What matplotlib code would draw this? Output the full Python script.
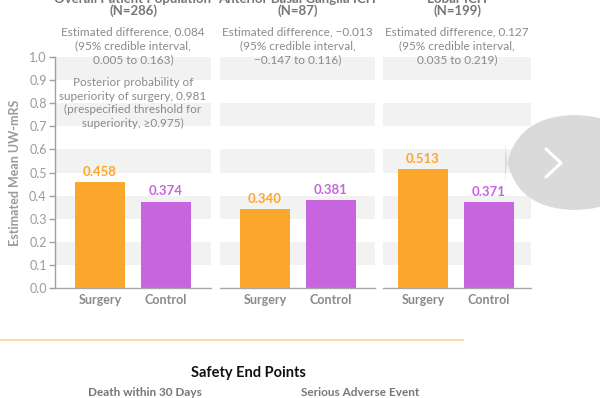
import matplotlib
matplotlib.use("Agg")
import matplotlib.pyplot as plt
from matplotlib.patches import FancyBboxPatch
from matplotlib.lines import Line2D

plt.rcParams['font.family'] = ['Lato', 'DejaVu Sans']

# ---- data ----
groups = ["Overall Patient Population", "Anterior Basal Ganglia ICH", "Lobar ICH"]
group_n = ["(N=286)", "(N=87)", "(N=199)"]
arms = ["Surgery", "Control"]
surgery_vals = [0.458, 0.340, 0.513]
control_vals = [0.374, 0.381, 0.371]
diff_texts = [
    "Estimated difference, 0.084\n(95% credible interval,\n0.005 to 0.163)",
    "Estimated difference, \u22120.013\n(95% credible interval,\n\u22120.147 to 0.116)",
    "Estimated difference, 0.127\n(95% credible interval,\n0.035 to 0.219)",
]
posterior_text = ("Posterior probability of\nsuperiority of surgery, 0.981\n"
                  "(prespecified threshold for\nsuperiority, \u22650.975)")
yticks = [0.0, 0.1, 0.2, 0.3, 0.4, 0.5, 0.6, 0.7, 0.8, 0.9, 1.0]
ylabel = "Estimated Mean UW-mRS"
safety_title = "Safety End Points"
safety_subs = ["Death within 30 Days", "Serious Adverse Event"]

ORANGE = "#FBA72B"
PURPLE = "#C765DF"
GRAY_TXT = "#8a8a8a"
BAND = "#F2F2F2"

W, H = 600, 398
fig = plt.figure(figsize=(6.0, 3.98), dpi=100)
fig.patch.set_facecolor("white")

def fx(px):
    return px / W

def fy(py):
    return 1 - py / H

# panel extents in pixels (left, right)
panels_px = [(55, 211), (220, 375), (383, 531)]
bar_centers_px = [(100, 166), (265, 331), (423, 489)]
top_px, bot_px = 57, 288
unit_px = 66.0

axes = []
for i, ((l, r), (c0, c1)) in enumerate(zip(panels_px, bar_centers_px)):
    ax = fig.add_axes([fx(l), fy(bot_px), fx(r - l), (bot_px - top_px) / H])
    ax.set_xlim(-(c0 - l) / unit_px, (r - c0) / unit_px)
    ax.set_ylim(0, 1.0)
    # alternating bands
    for y0 in [0.1, 0.3, 0.5, 0.7, 0.9]:
        ax.axhspan(y0, y0 + 0.1, color=BAND, lw=0, zorder=0)
    vals = [surgery_vals[i], control_vals[i]]
    cols = [ORANGE, PURPLE]
    ax.bar([0, 1], vals, width=50 / unit_px, color=cols, zorder=2)
    for x, v, c in zip([0, 1], vals, cols):
        ax.annotate(f"{v:.3f}", (x, v), xytext=(0, 3), textcoords="offset points",
                    ha="center", va="bottom", color=c, fontsize=9.5,
                    fontweight="bold", zorder=3)
    ax.set_xticks([0, 1])
    ax.set_xticklabels(arms, fontsize=9, fontweight="bold", color=GRAY_TXT)
    ax.tick_params(axis="x", length=0, pad=4)
    for s in ["top", "right"]:
        ax.spines[s].set_visible(False)
    ax.spines["bottom"].set_color("#a8a8a8")
    ax.spines["bottom"].set_linewidth(1.0)
    if i == 0:
        ax.set_yticks(yticks)
        ax.set_yticklabels([f"{t:.1f}" for t in yticks], fontsize=9, color="#9a9a9a")
        ax.tick_params(axis="y", length=4, width=1, color="#a0a0a0", pad=2)
        ax.spines["left"].set_color("#a0a0a0")
        ax.spines["left"].set_linewidth(1.0)
        ax.set_ylabel(ylabel, fontsize=9, fontweight="bold", color="#9a9a9a", labelpad=6)
    else:
        ax.spines["left"].set_visible(False)
        ax.set_yticks([])
    ax.set_facecolor("none")
    axes.append(ax)

    cx = (l + r) / 2
    # header (first line is cut off by the top edge, as in the screenshot)
    fig.text(fx(cx), fy(17), groups[i] + "\n" + group_n[i], ha="center",
             va="bottom", fontsize=9.5, fontweight="bold", color="#777777",
             linespacing=0.95)
    fig.text(fx(cx), fy(46), diff_texts[i], ha="center", va="center", fontsize=8.5,
             color=GRAY_TXT, linespacing=1.3, zorder=5)
    if i == 0:
        fig.text(fx(cx), fy(103), posterior_text, ha="center", va="center",
                 fontsize=8.5, color=GRAY_TXT, linespacing=1.3, zorder=5)

# separator line
fig.add_artist(Line2D([0, fx(463)], [fy(340), fy(340)], color="#FCD9A6", lw=1.5))

fig.text(fx(248), fy(373), safety_title, ha="center", va="center", fontsize=10.5,
         fontweight="bold", color="#111111")
fig.text(fx(145), fy(393), safety_subs[0], ha="center", va="center", fontsize=8.5,
         fontweight="bold", color="#777777")
fig.text(fx(360), fy(393), safety_subs[1], ha="center", va="center", fontsize=8.5,
         fontweight="bold", color="#777777")

# overlay navigation button from the screenshot
btn = FancyBboxPatch((fx(505), fy(210)), fx(140), (210 - 115) / H,
                     boxstyle="round,pad=0,rounding_size=0.12",
                     transform=fig.transFigure, facecolor="#D8D8D8",
                     edgecolor="none", alpha=0.95, zorder=10,
                     mutation_aspect=W / H)
fig.add_artist(btn)
fig.add_artist(Line2D([fx(546), fx(561), fx(546)], [fy(149), fy(163), fy(177)],
                      color="white", lw=2.2, zorder=11, solid_capstyle="round"))

fig.savefig("out.png", dpi=100, facecolor="white")
